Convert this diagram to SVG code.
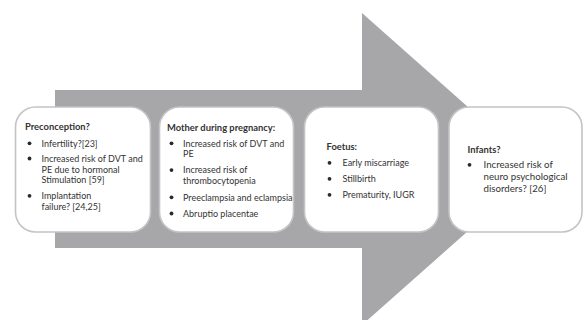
<svg xmlns="http://www.w3.org/2000/svg" width="583" height="320" viewBox="0 0 583 320">
<style>
.box{fill:#ffffff;stroke:#c4c4c6;stroke-width:1.6}
.t{font-family:Lato,"Open Sans","Liberation Sans",sans-serif;font-size:9px;fill:#333333}
.h{font-weight:bold;font-size:9.4px}
.big{font-size:9.7px}
.b{fill:#2a2a2a}
</style>
<rect width="583" height="320" fill="#ffffff"/>
<g id="arrow">
<polygon points="55,90 362,90 362,13 538,169 362,325 362,248 55,248" fill="#a7a7aa"/>
</g>
<g id="connectors"></g>
<g id="preconception">
<rect class="box" x="15.5" y="107" width="135" height="125" rx="20"/>
<text class="t h" x="25" y="129.5">Preconception?</text>
<circle class="b" cx="29.5" cy="143.3" r="1.9"/>
<text class="t" x="41.5" y="146.5">Infertility?[23]</text>
<circle class="b" cx="29.5" cy="158.5" r="1.9"/>
<text class="t" x="41.5" y="161.7">Increased risk of DVT and</text>
<text class="t" x="41.5" y="172.7">PE due to hormonal</text>
<text class="t" x="41.5" y="183.3">Stimulation [59]</text>
<circle class="b" cx="29.5" cy="195.8" r="1.9"/>
<text class="t" x="41.5" y="199">Implantation</text>
<text class="t" x="41.5" y="210">failure? [24,25]</text>
</g>
<g id="mother">
<rect class="box" x="159.5" y="107" width="134" height="125" rx="20"/>
<text class="t h" x="167" y="130.7">Mother during pregnancy:</text>
<circle class="b" cx="171.5" cy="143.3" r="1.9"/>
<text class="t" x="183" y="146.5">Increased risk of DVT and</text>
<text class="t" x="183" y="157">PE</text>
<circle class="b" cx="171.5" cy="170.1" r="1.9"/>
<text class="t" x="183" y="173.3">Increased risk of</text>
<text class="t" x="183" y="184">thrombocytopenia</text>
<circle class="b" cx="171.5" cy="197.3" r="1.9"/>
<text class="t" x="183" y="200.5">Preeclampsia and eclampsia</text>
<circle class="b" cx="171.5" cy="213.5" r="1.9"/>
<text class="t" x="183" y="216.7">Abruptio placentae</text>
</g>
<g id="foetus">
<rect class="box" x="304.5" y="107" width="134" height="125" rx="20"/>
<text class="t h" x="326.5" y="150">Foetus:</text>
<circle class="b" cx="329.5" cy="162.8" r="1.9"/>
<text class="t" x="342.5" y="166">Early miscarriage</text>
<circle class="b" cx="329.5" cy="178.8" r="1.9"/>
<text class="t" x="342.5" y="182">Stillbirth</text>
<circle class="b" cx="329.5" cy="194.8" r="1.9"/>
<text class="t" x="342.5" y="198">Prematurity, IUGR</text>
</g>
<g id="infants">
<rect class="box" x="449" y="107" width="133" height="125" rx="20"/>
<text class="t h" x="467.5" y="153">Infants?</text>
<circle class="b" cx="469.5" cy="164.8" r="1.9"/>
<text class="t big" x="483.5" y="168">Increased risk of</text>
<text class="t big" x="483.5" y="180">neuro psychological</text>
<text class="t big" x="483.5" y="192">disorders? [26]</text>
</g>
</svg>
